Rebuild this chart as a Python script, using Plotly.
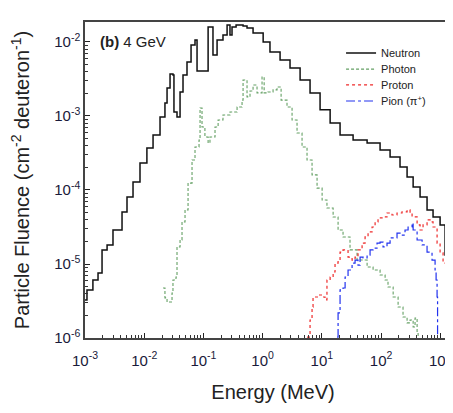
import plotly.graph_objects as go

# Neutron spectrum (MeV, cm^-2 deuteron^-1)
neutron_E = [1.00e-3, 1.08e-3, 1.36e-3, 1.66e-3, 1.94e-3, 2.36e-3, 2.97e-3, 4.22e-3, 5.12e-3, 6.47e-3,
             8.49e-3, 1.11e-2, 1.41e-2, 1.85e-2, 2.24e-2, 2.43e-2, 2.73e-2, 3.06e-2, 3.18e-2, 3.58e-2,
             4.03e-2, 4.52e-2, 5.28e-2, 6.18e-2, 7.21e-2, 7.80e-2, 0.106, 0.120, 0.145, 0.170,
             0.214, 0.251, 0.281, 0.304, 0.356, 0.467, 0.545, 0.689, 1.02, 1.33,
             1.97, 2.90, 4.29, 6.32, 9.33, 13.8, 20.3, 33.7, 58.1, 96.2,
             142, 209, 275, 348, 456, 598, 755, 993, 1205, 1420, 1600]
neutron_F = [3.27e-6, 4.46e-6, 6.08e-6, 7.55e-6, 1.55e-5, 1.81e-5, 2.88e-5, 5.05e-5, 8.04e-5, 1.28e-4,
             2.32e-4, 3.70e-4, 5.53e-4, 9.68e-4, 1.50e-3, 2.39e-3, 3.70e-3, 3.58e-3, 1.13e-3, 9.68e-4,
             2.11e-3, 3.58e-3, 5.37e-3, 9.10e-3, 1.06e-2, 4.06e-3, 4.06e-3, 1.60e-2, 6.67e-3, 1.06e-2,
             1.24e-2, 1.70e-2, 1.24e-2, 1.60e-2, 1.70e-2, 1.64e-2, 1.55e-2, 1.32e-2, 1.00e-2, 7.33e-3,
             5.71e-3, 4.46e-3, 3.06e-3, 2.05e-3, 1.21e-3, 8.04e-4, 5.53e-4, 4.74e-4, 4.32e-4, 3.48e-4,
             2.79e-4, 2.05e-4, 1.50e-4, 1.10e-4, 8.04e-5, 5.37e-5, 4.32e-5, 3.37e-5, 1.32e-5, 3.81e-6, 3.81e-6]

photon_E = [2.08e-2, 2.24e-2, 2.43e-2, 2.73e-2, 2.95e-2, 3.06e-2, 3.44e-2, 3.58e-2, 4.03e-2, 4.35e-2,
            4.89e-2, 5.50e-2, 6.42e-2, 7.21e-2, 8.43e-2, 8.77e-2, 9.47e-2, 0.106, 0.120, 0.129,
            0.157, 0.177, 0.214, 0.281, 0.370, 0.449, 0.467, 0.545, 0.612, 0.689,
            0.804, 0.977, 1.06, 1.23, 1.50, 1.75, 2.05, 2.58, 3.14, 3.81,
            4.63, 5.62, 6.83, 8.30, 10.1, 12.2, 15.5, 18.8, 22.8, 29.9,
            39.3, 58.1, 73.3, 96.2, 117, 131, 160, 194, 235, 275,
            309, 348, 375, 406, 422]
photon_F = [4.74e-6, 3.48e-6, 3.06e-6, 3.06e-6, 4.06e-6, 6.08e-6, 6.67e-6, 1.70e-5, 2.11e-5, 3.70e-5,
            5.37e-5, 1.24e-4, 2.54e-4, 3.81e-4, 4.74e-4, 1.28e-3, 7.10e-4, 5.20e-4, 4.32e-4, 5.20e-4,
            7.10e-4, 8.83e-4, 1.03e-3, 1.13e-3, 1.32e-3, 1.64e-3, 3.06e-3, 1.81e-3, 2.18e-3, 2.62e-3,
            2.05e-3, 3.37e-3, 2.05e-3, 2.11e-3, 2.25e-3, 2.46e-3, 1.64e-3, 1.32e-3, 8.83e-4, 5.89e-4,
            3.81e-4, 2.54e-4, 1.60e-4, 1.06e-4, 7.33e-5, 5.71e-5, 4.32e-5, 2.88e-5, 2.32e-5, 1.55e-5,
            1.13e-5, 9.10e-6, 8.30e-6, 7.10e-6, 6.08e-6, 4.89e-6, 3.58e-6, 2.62e-6, 1.92e-6, 1.60e-6,
            1.75e-6, 1.41e-6, 1.86e-6, 1.17e-6, 1.03e-6]

proton_E = [5.62, 6.32, 6.83, 7.10, 8.62, 10.1, 11.3, 12.2, 13.8, 15.5,
            16.7, 18.8, 20.3, 22.8, 27.7, 32.4, 36.4, 40.8, 47.8, 53.7,
            60.3, 70.5, 79.3, 88.9, 104, 126, 153, 186, 226, 275,
            309, 334, 406, 456, 512, 598, 673, 755, 883, 993,
            1115, 1303, 1355, 1466]
proton_F = [1.03e-6, 1.75e-6, 2.62e-6, 3.58e-6, 3.81e-6, 3.58e-6, 3.27e-6, 6.08e-6, 6.67e-6, 7.80e-6,
            1.03e-5, 1.13e-5, 1.45e-5, 1.55e-5, 1.24e-5, 1.13e-5, 1.24e-5, 1.55e-5, 1.92e-5, 2.32e-5,
            2.71e-5, 3.16e-5, 3.70e-5, 4.19e-5, 4.32e-5, 4.89e-5, 4.59e-5, 4.89e-5, 5.05e-5, 5.37e-5,
            4.89e-5, 4.32e-5, 3.37e-5, 2.88e-5, 3.37e-5, 3.94e-5, 3.70e-5, 3.16e-5, 1.92e-5, 1.41e-5,
            1.03e-5, 6.08e-6, 3.58e-6, 1.75e-6]

pion_E = [18.1, 18.8, 20.3, 22.8, 24.7, 27.7, 32.4, 36.4, 40.8, 44.2,
          49.7, 58.1, 65.2, 73.3, 85.5, 96.2, 108, 126, 142, 160,
          186, 209, 254, 286, 334, 348, 406, 493, 598, 726,
          817, 850, 883, 900]
pion_F = [1.03e-6, 2.18e-6, 4.46e-6, 4.74e-6, 6.67e-6, 8.30e-6, 1.03e-5, 1.13e-5, 9.68e-6, 1.24e-5,
          1.21e-5, 1.32e-5, 1.55e-5, 1.64e-5, 1.92e-5, 1.98e-5, 1.70e-5, 1.92e-5, 2.25e-5, 2.25e-5,
          2.62e-5, 2.46e-5, 2.88e-5, 3.16e-5, 3.58e-5, 2.88e-5, 2.11e-5, 1.81e-5, 1.45e-5, 1.13e-5,
          8.30e-6, 6.08e-6, 3.58e-6, 1.03e-6]

series_names = ["Neutron", "Photon", "Proton", "Pion (\u03c0<sup>+</sup>)"]

x_tickvals = [1e-3, 1e-2, 1e-1, 1e0, 1e1, 1e2, 1e3]
x_ticktext = ["10<sup>-3</sup>", "10<sup>-2</sup>", "10<sup>-1</sup>", "10<sup>0</sup>",
              "10<sup>1</sup>", "10<sup>2</sup>", "10<sup>3</sup>"]
y_tickvals = [1e-6, 1e-5, 1e-4, 1e-3, 1e-2]
y_ticktext = ["10<sup>-6</sup>", "10<sup>-5</sup>", "10<sup>-4</sup>", "10<sup>-3</sup>", "10<sup>-2</sup>"]

FONT = "Arial, Liberation Sans, sans-serif"

fig = go.Figure()
fig.add_trace(go.Scatter(x=neutron_E, y=neutron_F, name=series_names[0], mode="lines", line_shape="hv",
                         legend="legend", line=dict(color="#111111", width=1.5)))
fig.add_trace(go.Scatter(x=photon_E, y=photon_F, name=series_names[1], mode="lines", line_shape="hv",
                         legend="legend2", line=dict(color="#64a064", width=1.1, dash="3px,2px")))
fig.add_trace(go.Scatter(x=proton_E, y=proton_F, name=series_names[2], mode="lines", line_shape="hv",
                         legend="legend3", line=dict(color="#ee2a2a", width=1.2, dash="dot")))
fig.add_trace(go.Scatter(x=pion_E, y=pion_F, name=series_names[3], mode="lines", line_shape="hv",
                         legend="legend4", line=dict(color="#2233ee", width=1.2, dash="dashdot")))

axis_common = dict(showline=True, linecolor="#444444", linewidth=1.5,
                   ticks="inside", ticklen=5, tickcolor="#222222", showgrid=False, zeroline=False,
                   automargin=False,
                   tickfont=dict(family=FONT, size=15, color="#1a1a3a"),
                   minor=dict(ticks="inside", ticklen=3, tickcolor="#333333", dtick="D1", showgrid=False))

fig.update_xaxes(type="log", range=[-3, 3.35], tickvals=x_tickvals, ticktext=x_ticktext, mirror=True,
                 ticklabelstandoff=8,
                 title=dict(text="Energy (MeV)", font=dict(family=FONT, size=20, color="#222222"), standoff=17),
                 **axis_common)
fig.update_yaxes(type="log", range=[-6, -1.73], tickvals=y_tickvals, ticktext=y_ticktext, mirror=False,
                 title=dict(text="Particle Fluence (cm<sup>-2</sup> deuteron<sup>-1</sup>)",
                            font=dict(family=FONT, size=20, color="#222222"), standoff=30),
                 **axis_common)

fig.add_annotation(x=0.035, y=0.937, xref="paper", yref="paper", xanchor="left", yanchor="middle",
                   text="<b>(b)</b> 4 GeV", showarrow=False,
                   font=dict(family=FONT, size=15, color="#222222"))

leg_common = dict(x=0.681, xanchor="left", yanchor="middle", bgcolor="rgba(0,0,0,0)",
                  font=dict(family=FONT, size=11, color="#222222"), itemwidth=30)

fig.update_layout(
    width=453, height=413,
    margin=dict(l=77, r=0, t=14, b=83),
    paper_bgcolor="white", plot_bgcolor="white",
    showlegend=True,
    legend=dict(y=0.902, **leg_common),
    legend2=dict(y=0.851, **leg_common),
    legend3=dict(y=0.801, **leg_common),
    legend4=dict(y=0.750, **leg_common),
)

fig.write_html("out.html")
